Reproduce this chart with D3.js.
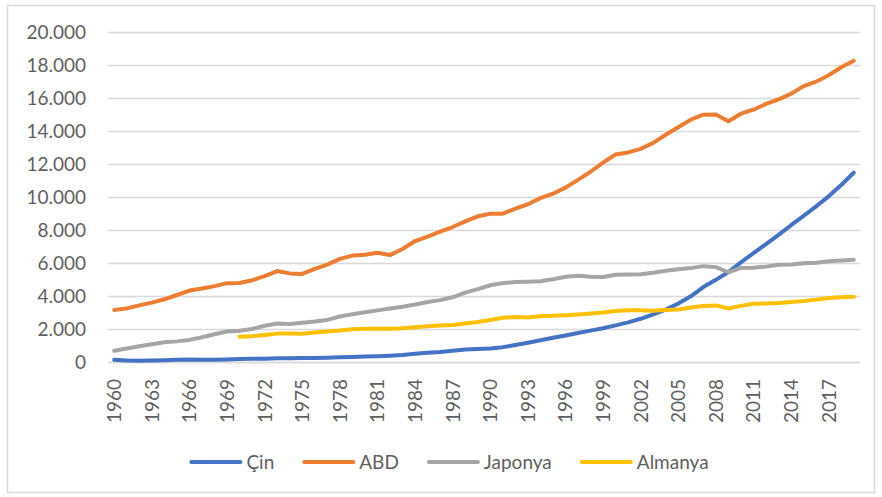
<!DOCTYPE html>
<html>
<head>
<meta charset="utf-8">
<script src="https://cdn.jsdelivr.net/npm/d3@7"></script>
<style>
  html, body { margin: 0; padding: 0; background: #fff; }
  #chart { width: 882px; height: 497px; }
  text { font-family: Lato, 'Open Sans', sans-serif; fill: #5f5f5f; }
</style>
</head>
<body>
<div id="chart"></div>
<script>
// ── Data (billion USD) ─────────────────────────────────────
const years = [1960, 1961, 1962, 1963, 1964, 1965, 1966, 1967, 1968, 1969,
     1970, 1971, 1972, 1973, 1974, 1975, 1976, 1977, 1978, 1979,
     1980, 1981, 1982, 1983, 1984, 1985, 1986, 1987, 1988, 1989,
     1990, 1991, 1992, 1993, 1994, 1995, 1996, 1997, 1998, 1999,
     2000, 2001, 2002, 2003, 2004, 2005, 2006, 2007, 2008, 2009,
     2010, 2011, 2012, 2013, 2014, 2015, 2016, 2017, 2018, 2019];

const cin = [130, 90, 80, 90, 110, 130, 150, 140, 130, 150,
     180, 190, 200, 220, 225, 245, 240, 260, 290, 310,
     335, 355, 385, 430, 495, 560, 610, 680, 760, 790,
     820, 900, 1030, 1170, 1320, 1470, 1610, 1760, 1900, 2050,
     2220, 2400, 2620, 2880, 3180, 3540, 3980, 4540, 4980, 5450,
     6040, 6600, 7150, 7700, 8290, 8850, 9430, 10040, 10730, 11470];

const abd = [3150, 3250, 3430, 3600, 3800, 4060, 4330, 4450, 4600, 4780,
     4790, 4950, 5200, 5510, 5370, 5340, 5650, 5900, 6250, 6450,
     6500, 6620, 6480, 6850, 7330, 7600, 7900, 8180, 8520, 8830,
     8980, 8990, 9300, 9560, 9930, 10200, 10570, 11040, 11530, 12080,
     12580, 12700, 12920, 13280, 13770, 14230, 14690, 14990, 15000, 14590,
     15050, 15290, 15640, 15920, 16260, 16720, 16990, 17380, 17860, 18260];

const japonya = [680, 820, 950, 1070, 1200, 1250, 1340, 1500, 1680, 1850,
     1900, 2000, 2200, 2330, 2310, 2380, 2450, 2550, 2760, 2900,
     3010, 3130, 3240, 3350, 3480, 3640, 3750, 3920, 4200, 4420,
     4650, 4780, 4850, 4870, 4900, 5010, 5170, 5230, 5170, 5150,
     5290, 5310, 5320, 5410, 5530, 5620, 5690, 5810, 5750, 5440,
     5700, 5710, 5780, 5890, 5910, 5980, 6010, 6110, 6150, 6190];

const almanya = [null, null, null, null, null, null, null, null, null, null,
     1530, 1560, 1640, 1720, 1730, 1710, 1790, 1850, 1910, 1990,
     2010, 2020, 2010, 2040, 2110, 2160, 2210, 2240, 2330, 2420,
     2550, 2680, 2730, 2700, 2770, 2810, 2830, 2880, 2940, 3000,
     3090, 3140, 3130, 3110, 3150, 3180, 3300, 3400, 3430, 3240,
     3400, 3530, 3550, 3570, 3640, 3700, 3780, 3880, 3920, 3960];

const seriesNames = ['Çin', 'ABD', 'Japonya', 'Almanya'];
const seriesColors = ['#4472C4', '#ED7D31', '#A5A5A5', '#FFC000'];
const yTicks = [0, 2000, 4000, 6000, 8000, 10000, 12000, 14000, 16000, 18000, 20000];
const xTickLabels = [1960, 1963, 1966, 1969, 1972, 1975, 1978, 1981, 1984, 1987,
     1990, 1993, 1996, 1999, 2002, 2005, 2008, 2011, 2014, 2017];

// ── Chart ─────────────────────────────────────────────────
const W = 882, H = 497;
const M = { top: 32, right: 22, bottom: 135, left: 108 };
const iW = W - M.left - M.right, iH = H - M.top - M.bottom;
const FONT = '19px';
const TXT = '#5f5f5f';

const trLocale = d3.formatLocale({ decimal: ',', thousands: '.', grouping: [3], currency: ['', '₺'] });
const fmt = trLocale.format(',');

const svg = d3.select('#chart').append('svg')
     .attr('width', W).attr('height', H)
     .attr('viewBox', `0 0 ${W} ${H}`);

svg.append('rect')
     .attr('x', 7.5).attr('y', 5.5)
     .attr('width', W - 15).attr('height', H - 10)
     .attr('fill', '#fff').attr('stroke', '#d9d9d9').attr('stroke-width', 1.5);

const g = svg.append('g').attr('transform', `translate(${M.left},${M.top})`);

const xScl = d3.scaleBand().domain(years).range([0, iW]).padding(0);
const yScl = d3.scaleLinear().domain([0, 20000]).range([iH, 0]);
const cx = yr => xScl(yr) + xScl.bandwidth() / 2;

// y gridlines + labels
const yAx = g.append('g')
     .call(d3.axisLeft(yScl).tickValues(yTicks).tickSize(-iW).tickPadding(22).tickFormat(fmt));
yAx.select('.domain').remove();
yAx.selectAll('.tick line').attr('stroke', '#d9d9d9').attr('stroke-width', 1.5);
yAx.selectAll('.tick text').attr('font-size', FONT).style('font-family', 'Lato, sans-serif').attr('fill', TXT);

// x axis
const xAx = g.append('g').attr('transform', `translate(0,${iH})`)
     .call(d3.axisBottom(xScl).tickValues(xTickLabels).tickSize(0));
xAx.select('.domain').attr('stroke', '#d9d9d9').attr('stroke-width', 1.5);
xAx.selectAll('.tick text')
     .attr('transform', 'rotate(-90)')
     .attr('x', -17).attr('y', 0).attr('dy', '0.36em')
     .attr('text-anchor', 'end')
     .attr('font-size', FONT).style('font-family', 'Lato, sans-serif').attr('fill', TXT);

// lines
const seriesData = [cin, abd, japonya, almanya];
const line = d3.line()
     .defined(d => d.v != null)
     .x(d => cx(d.yr))
     .y(d => yScl(d.v));

seriesData.forEach((vals, i) => {
     const pts = years.map((yr, j) => ({ yr, v: vals[j] }));
     g.append('path')
          .datum(pts)
          .attr('fill', 'none')
          .attr('stroke', seriesColors[i])
          .attr('stroke-width', 4)
          .attr('stroke-linejoin', 'round')
          .attr('stroke-linecap', 'round')
          .attr('d', line);
});

// legend
const GAP = 30;
const lg = svg.append('g').attr('transform', `translate(0,462)`);
const items = lg.selectAll('g.item').data(seriesNames).join('g').attr('class', 'item');
items.append('line')
     .attr('x1', 0).attr('x2', 49).attr('y1', 0).attr('y2', 0)
     .attr('stroke', (d, i) => seriesColors[i]).attr('stroke-width', 4).attr('stroke-linecap', 'round');
items.append('text')
     .attr('x', 55).attr('dy', '0.35em')
     .attr('font-size', FONT).style('font-family', 'Lato, sans-serif').attr('fill', TXT)
     .text(d => d);
let offs = [], cur = 0;
items.each(function () {
     offs.push(cur);
     cur += this.getBBox().width + GAP;
});
const total = cur - GAP;
const startX = 450 - total / 2;
items.attr('transform', (d, i) => `translate(${startX + offs[i]},0)`);
</script>
</body>
</html>
